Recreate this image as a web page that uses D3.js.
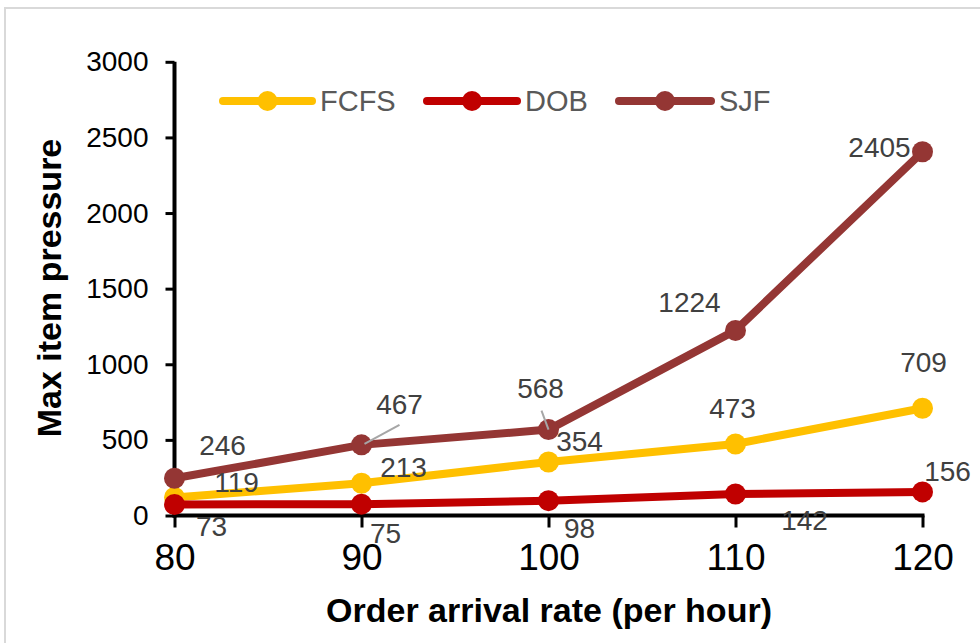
<!DOCTYPE html>
<html>
<head>
<meta charset="utf-8">
<script src="https://cdn.jsdelivr.net/npm/d3@7/dist/d3.min.js"></script>
<style>
  html, body { margin: 0; padding: 0; background: #fff; }
  svg { display: block; }
  text { font-family: "Liberation Sans", Arial, sans-serif; }
</style>
</head>
<body>
<svg id="chart" width="980" height="643"></svg>
<script>
// ---- data ----
const rates = [80, 90, 100, 110, 120];
const seriesNames = ["FCFS", "DOB", "SJF"];
const fcfs = [119, 213, 354, 473, 709];
const dob = [73, 75, 98, 142, 156];
const sjf = [246, 467, 568, 1224, 2405];
const yTicks = [0, 500, 1000, 1500, 2000, 2500, 3000];
const xTicks = [80, 90, 100, 110, 120];
const xTitle = "Order arrival rate (per hour)";
const yTitle = "Max item pressure";

// ---- styling / layout ----
const colors = { FCFS: "#FFC000", DOB: "#C00000", SJF: "#943634" };
// label offsets (dx, dy of text centre from point), per series
const labelOffsets = {
  FCFS: [[62, -16], [42, -16], [31, -21], [-3, -36], [1, -46]],
  DOB:  [[37, 21], [24, 29], [31, 27], [69, 26], [25, -21]],
  SJF:  [[48, -33], [38, -41], [-8, -42], [-46, -28], [-43, -5]]
};
const leaders = { SJF: { 1: [[3, -1], [38, -20]], 2: [[-7, -19], [0, 0]] } };

const svg = d3.select("#chart");
const x = d3.scaleLinear().domain([80, 120]).range([174.5, 922.5]);
const y = d3.scaleLinear().domain([0, 3000]).range([515.5, 61.8]);

// border
svg.append("rect").attr("x", 5).attr("y", 8).attr("width", 990).attr("height", 660)
  .attr("fill", "none").attr("stroke", "#d9d9d9").attr("stroke-width", 2);

// y axis
const yAxis = svg.append("g").attr("transform", `translate(${x(80)},0)`)
  .call(d3.axisLeft(y).tickValues(yTicks).tickSize(9).tickPadding(17).tickFormat(d3.format("d")));
yAxis.select(".domain").attr("stroke", "#000").attr("stroke-width", 4).attr("d", `M0,${y(0)+2}V${y(3000)}`);
yAxis.selectAll(".tick line").attr("stroke", "#000").attr("stroke-width", 3);
yAxis.selectAll(".tick text").attr("font-size", 28).attr("fill", "#000")
  .attr("font-family", "Liberation Sans, Arial, sans-serif");

// x axis
const xAxis = svg.append("g").attr("transform", `translate(0,${y(0)})`)
  .call(d3.axisBottom(x).tickValues(xTicks).tickSize(12).tickPadding(16).tickFormat(d3.format("d")));
xAxis.select(".domain").attr("stroke", "#000").attr("stroke-width", 4).attr("d", `M${x(80)-2},0H${x(120)+2}`);
xAxis.selectAll(".tick line").attr("stroke", "#000").attr("stroke-width", 3);
xAxis.selectAll(".tick text").attr("font-size", 37).attr("fill", "#000")
  .attr("font-family", "Liberation Sans, Arial, sans-serif");

// titles
svg.append("text").attr("x", 549).attr("y", 622).attr("text-anchor", "middle")
  .attr("font-size", 34).attr("font-weight", "bold").attr("fill", "#000").text(xTitle);
svg.append("text").attr("transform", "translate(61,288) rotate(-90)").attr("text-anchor", "middle")
  .attr("font-size", 34).attr("font-weight", "bold").attr("fill", "#000").text(yTitle);

// series
const seriesData = { FCFS: fcfs, DOB: dob, SJF: sjf };
const line = d3.line().x((d, i) => x(rates[i])).y(d => y(d));
const drawOrder = ["FCFS", "DOB", "SJF"];
drawOrder.forEach(name => {
  const vals = seriesData[name];
  svg.append("path").datum(vals).attr("d", line).attr("fill", "none")
    .attr("stroke", colors[name]).attr("stroke-width", 8)
    .attr("stroke-linejoin", "round").attr("stroke-linecap", "round");
  svg.append("g").selectAll("circle").data(vals).join("circle")
    .attr("cx", (d, i) => x(rates[i])).attr("cy", d => y(d)).attr("r", 10.5)
    .attr("fill", colors[name]);
});

// leader lines
Object.keys(leaders).forEach(name => {
  Object.keys(leaders[name]).forEach(k => {
    const i = +k, v = seriesData[name][i];
    const [[x1, y1], [x2, y2]] = leaders[name][k];
    svg.append("line")
      .attr("x1", x(rates[i]) + x1).attr("y1", y(v) + y1)
      .attr("x2", x(rates[i]) + x2).attr("y2", y(v) + y2)
      .attr("stroke", "#a6a6a6").attr("stroke-width", 2);
  });
});

// data labels
seriesNames.forEach(name => {
  seriesData[name].forEach((v, i) => {
    const [dx, dy] = labelOffsets[name][i];
    svg.append("text").attr("x", x(rates[i]) + dx).attr("y", y(v) + dy)
      .attr("dy", "0.36em").attr("text-anchor", "middle")
      .attr("font-size", 28).attr("fill", "#404040").text(v);
  });
});

// legend
const legendItems = [
  { name: "FCFS", x1: 223, x2: 312 },
  { name: "DOB", x1: 427, x2: 517 },
  { name: "SJF", x1: 619, x2: 711 }
];
const ly = 101;
legendItems.forEach(it => {
  svg.append("line").attr("x1", it.x1).attr("x2", it.x2).attr("y1", ly).attr("y2", ly)
    .attr("stroke", colors[it.name]).attr("stroke-width", 8).attr("stroke-linecap", "round");
  svg.append("circle").attr("cx", (it.x1 + it.x2) / 2).attr("cy", ly).attr("r", 10)
    .attr("fill", colors[it.name]);
  svg.append("text").attr("x", it.x2 + 8).attr("y", ly).attr("dy", "0.36em")
    .attr("font-size", 29).attr("fill", "#595959").text(it.name);
});
</script>
</body>
</html>
